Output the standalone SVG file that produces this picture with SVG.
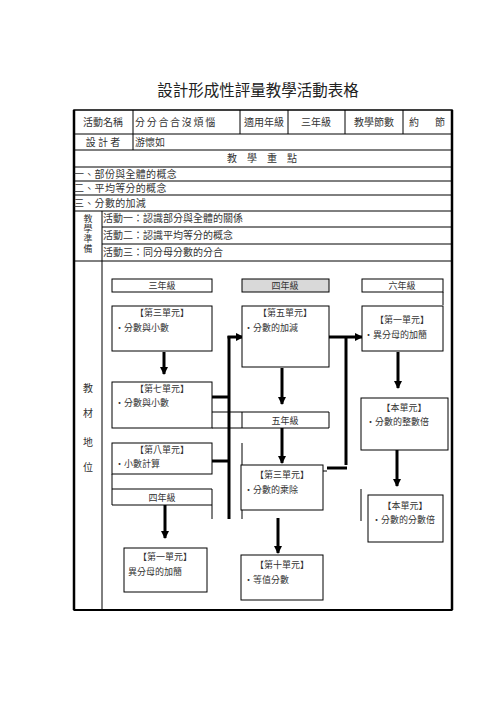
<svg xmlns="http://www.w3.org/2000/svg" width="496" height="702" viewBox="0 0 496 702">
<style>
text{font-family:"Noto Sans CJK TC","Liberation Sans",sans-serif;fill:#333;}
.t{font-size:10px;}
.v{font-size:9px;writing-mode:vertical-rl;letter-spacing:1px;}
.s{font-size:9px;}
.title{font-size:15.5px;fill:#222;}
.ln{stroke:#000;stroke-width:1;fill:none;}
.bx{stroke:#000;stroke-width:1;fill:#fff;}
.th{stroke:#000;stroke-width:3;fill:none;}
.tn{stroke:#000;stroke-width:1;fill:none;}
</style>
<defs>
<marker id="ah" markerWidth="8" markerHeight="8" refX="7" refY="4" orient="auto" markerUnits="userSpaceOnUse">
<path d="M0,0 L8,4 L0,8 Z" fill="#000"/>
</marker>
</defs>
<rect width="496" height="702" fill="#fff"/>
<text class="title" x="258" y="96" text-anchor="middle">設計形成性評量教學活動表格</text>

<g id="table">
<rect x="74" y="110" width="378" height="500" fill="none" stroke="#000" stroke-width="1.5"/>
<line x1="74" y1="110" x2="74" y2="610" stroke="#000" stroke-width="2.5"/>
<line x1="452" y1="110" x2="452" y2="610" stroke="#000" stroke-width="2.5"/>
<line x1="74" y1="610" x2="452" y2="610" stroke="#000" stroke-width="2"/>
<path class="ln" d="M74,134H452 M74,150H452 M74,167H452 M74,181H452 M74,195H452 M74,211H452 M102,227H452 M102,244H452 M74,261H452"/>
<path class="ln" d="M133,110V150 M240,110V134 M288,110V134 M345,110V134 M403,110V134 M102,211V610"/>
<text class="t" x="103" y="126" text-anchor="middle">活動名稱</text>
<text class="t" x="135" y="126" letter-spacing="1.7">分分合合沒煩惱</text>
<text class="t" x="264" y="126" text-anchor="middle">適用年級</text>
<text class="t" x="316" y="126" text-anchor="middle">三年級</text>
<text class="t" x="374" y="126" text-anchor="middle">教學節數</text>
<text class="t" x="414" y="126" text-anchor="middle">約</text>
<text class="t" x="440" y="126" text-anchor="middle">節</text>
<text class="t" x="103" y="146" text-anchor="middle">設 計 者</text>
<text class="t" x="135" y="146">游懷如</text>
<text class="t" x="262" y="162" text-anchor="middle">教　學　重　點</text>
<text class="t" x="74" y="178" letter-spacing="0.3">一、部份與全體的概念</text>
<text class="t" x="74" y="192" letter-spacing="0.3">二、平均等分的概念</text>
<text class="t" x="74" y="207" letter-spacing="0.3">三、分數的加減</text>
<text class="v" x="88" y="214">教學準備</text>
<text class="t" x="103" y="222">活動一：認識部分與全體的關係</text>
<text class="t" x="103" y="239">活動二：認識平均等分的概念</text>
<text class="t" x="103" y="256">活動三：同分母分數的分合</text>
<text class="t" x="88" y="392" text-anchor="middle">教</text>
<text class="t" x="88" y="417" text-anchor="middle">材</text>
<text class="t" x="88" y="446" text-anchor="middle">地</text>
<text class="t" x="88" y="471" text-anchor="middle">位</text>
</g>

<g id="connectors">
<line class="th" x1="164" y1="352" x2="164" y2="374" marker-end="url(#ah)"/>
<line class="th" x1="212" y1="397" x2="229" y2="397"/>
<line class="th" x1="212" y1="461" x2="229" y2="461"/>
<line class="th" x1="229" y1="519" x2="229" y2="336"/>
<line class="th" x1="227.5" y1="337" x2="243" y2="337" marker-end="url(#ah)"/>
<line class="th" x1="282" y1="368" x2="282" y2="404" marker-end="url(#ah)"/>
<line class="th" x1="327" y1="337" x2="362" y2="337" marker-end="url(#ah)"/>
<line class="th" x1="346" y1="337" x2="346" y2="465"/>
<line class="th" x1="327" y1="468" x2="347" y2="468"/>
<line class="tn" x1="323" y1="471" x2="327" y2="471"/>
<line class="th" x1="282" y1="428" x2="282" y2="463" marker-end="url(#ah)"/>
<line class="th" x1="398" y1="352" x2="398" y2="388" marker-end="url(#ah)"/>
<line class="th" x1="397" y1="450" x2="397" y2="486" marker-end="url(#ah)"/>
<line class="th" x1="278" y1="518" x2="278" y2="553" marker-end="url(#ah)"/>
<line class="th" x1="165" y1="505" x2="165" y2="538" marker-end="url(#ah)"/>
<path class="tn" d="M212,412H329 M212,428H329 M242,412V428 M242,443V519 M361,489V521 M443,292V305 M112,474V505 M212,489V519"/>
</g>

<g id="n-g3"><rect class="bx" x="112" y="279" width="100" height="13"/><text class="s" x="162" y="289" text-anchor="middle">三年級</text></g>
<g id="n-g4"><rect x="242" y="279" width="87" height="13" fill="#d9d9d9" stroke="#000"/><text class="s" x="285" y="289" text-anchor="middle">四年級</text></g>
<g id="n-g6"><rect class="bx" x="362" y="279" width="81" height="13"/><text class="s" x="402" y="289" text-anchor="middle">六年級</text></g>

<g id="n-u3"><rect class="bx" x="112" y="306" width="100" height="45"/><text class="s" x="162" y="316" text-anchor="middle">【第三單元】</text><text class="s" x="115" y="331">•分數與小數</text></g>
<g id="n-u5"><rect class="bx" x="242" y="306" width="87" height="61"/><text class="s" x="285" y="316" text-anchor="middle">【第五單元】</text><text class="s" x="244" y="331">•分數的加減</text></g>
<g id="n-u1r"><rect class="bx" x="362" y="306" width="81" height="45"/><text class="s" x="402" y="323" text-anchor="middle">【第一單元】</text><text class="s" x="364" y="338">•異分母的加簡</text></g>

<g id="n-u7"><rect class="bx" x="112" y="382" width="100" height="46"/><text class="s" x="162" y="392" text-anchor="middle">【第七單元】</text><text class="s" x="115" y="406">•分數與小數</text></g>
<g id="n-g5"><line class="ln" x1="329" y1="412" x2="329" y2="428"/><text class="s" x="285" y="424" text-anchor="middle">五年級</text></g>
<g id="n-ub1"><rect class="bx" x="361" y="398" width="87" height="52"/><text class="s" x="404" y="411" text-anchor="middle">【本單元】</text><text class="s" x="366" y="425">•分數的整數倍</text></g>

<g id="n-u8"><rect class="bx" x="112" y="443" width="100" height="31"/><text class="s" x="162" y="453" text-anchor="middle">【第八單元】</text><text class="s" x="115" y="467">•小數計算</text></g>
<g id="n-g4b"><path class="ln" d="M112,489H212 M112,505H212"/><text class="s" x="162" y="501" text-anchor="middle">四年級</text></g>
<g id="n-u3b"><rect class="bx" x="241" y="465" width="82" height="45"/><text class="s" x="282" y="478" text-anchor="middle">【第三單元】</text><text class="s" x="244" y="493">•分數的乘除</text></g>
<g id="n-ub2"><rect class="bx" x="368" y="495" width="75" height="47"/><text class="s" x="405" y="509" text-anchor="middle">【本單元】</text><text class="s" x="372" y="523">•分數的分數倍</text></g>

<g id="n-u1b"><rect class="bx" x="124" y="548" width="83" height="44"/><text class="s" x="165" y="560" text-anchor="middle">【第一單元】</text><text class="s" x="128" y="575">異分母的加簡</text></g>
<g id="n-u10"><rect class="bx" x="241" y="555" width="82" height="45"/><text class="s" x="282" y="568" text-anchor="middle">【第十單元】</text><text class="s" x="244" y="583">•等值分數</text></g>
</svg>
